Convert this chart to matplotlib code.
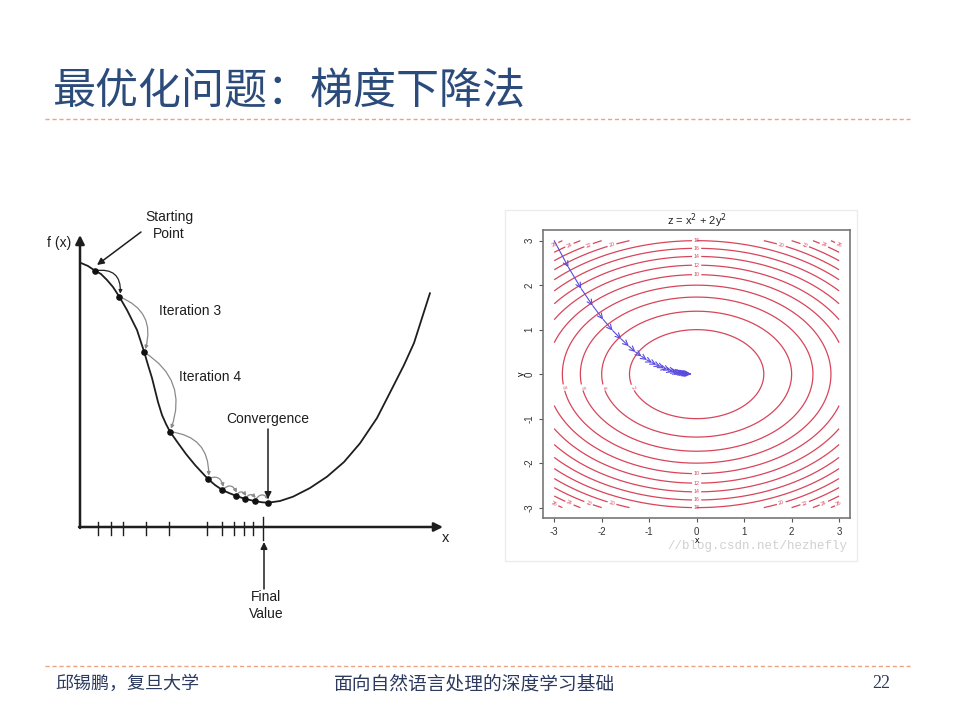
import numpy as np
import matplotlib
matplotlib.use("Agg")
from matplotlib import pyplot as plt
from matplotlib.patches import FancyArrowPatch, Rectangle

plt.rcParams['font.family'] = ['Liberation Sans', 'Noto Sans CJK SC', 'DejaVu Sans']
plt.rcParams['axes.unicode_minus'] = False

# slide text
title_text = "最优化问题：梯度下降法"
footer_left = "邱锡鹏，复旦大学"
footer_mid = "面向自然语言处理的深度学习基础"
footer_page = "22"

# left sketch: hand drawn f(x) curve (pixel coords of the slide)
curve_x = [81, 88, 95, 101, 107, 113, 119.3, 127, 137, 144.3, 148, 152, 155, 158, 162,
           166, 170, 178, 186, 195, 207.7, 215, 222.3, 229, 235.7, 245.3, 254.7, 262,
           268.3, 280, 293, 310, 327, 344, 360, 377, 393, 404, 414, 422, 430]
curve_y = [263, 266, 270.7, 274, 280, 287, 296.7, 310, 330, 352.3, 365, 378, 390, 402, 415,
           424, 431.7, 443, 454, 465, 478.7, 485, 490, 493, 495.7, 499, 501, 502.3,
           502.7, 501, 496.7, 488, 476.7, 462, 443.3, 418, 386.7, 365, 343, 318, 293]
dots_x = [95, 119.3, 144.3, 170, 207.7, 222.3, 235.7, 245.3, 254.7, 268.3]
dots_y = [270.7, 296.7, 352.3, 431.7, 478.7, 490, 495.7, 499, 501, 502.7]
tick_x = [98.3, 111, 122.7, 146, 169, 206.7, 222, 234, 243.7, 252.7]
final_x = 263.5

# right plot: z = x^2 + 2y^2 with the descent path
levels = [2, 4, 6, 8, 10, 12, 14, 16, 18, 20, 22, 24, 26]
path_x = [-3.0, -2.7, -2.43, -2.19, -1.97, -1.77, -1.59, -1.43, -1.29, -1.16, -1.05,
          -0.94, -0.85, -0.76, -0.69, -0.62, -0.56, -0.50, -0.45, -0.41, -0.37, -0.33,
          -0.30, -0.27, -0.24, -0.22, -0.19, -0.17, -0.16, -0.14, -0.13, -0.11]
path_y = [3.0, 2.4, 1.92, 1.54, 1.23, 0.98, 0.79, 0.63, 0.50, 0.40, 0.32,
          0.26, 0.21, 0.17, 0.13, 0.11, 0.08, 0.07, 0.05, 0.04, 0.035, 0.028,
          0.022, 0.018, 0.014, 0.011, 0.009, 0.007, 0.006, 0.005, 0.004, 0.003]

W, H = 956, 719
fig = plt.figure(figsize=(W / 100, H / 100), dpi=100)

# overlay axes in slide pixel coordinates
ax = fig.add_axes([0, 0, 1, 1])
ax.set_xlim(0, W)
ax.set_ylim(H, 0)
ax.axis('off')

cjk = ['Noto Sans CJK SC', 'DejaVu Sans']
ax.text(53, 92, title_text, fontsize=31, color='#2b4b7b', va='center', ha='left', family=cjk)
for yy in (119, 666):
    ax.plot([45, 910], [yy, yy], color='#eba381', lw=1.0, linestyle=(0, (3, 2)))
ax.text(55, 684, footer_left, fontsize=13, color='#2b3a5e', va='center', family=cjk)
ax.text(475, 684, footer_mid, fontsize=13.5, color='#2b3a5e', va='center', ha='center',
        family=cjk)
ax.text(890, 684, footer_page, fontsize=13, color='#2b3a5e', va='center', ha='right',
        family='Liberation Serif')

# left sketch
dark = '#1e1e1e'
ax.annotate('', xy=(80, 235), xytext=(80, 528),
            arrowprops=dict(arrowstyle='-|>', lw=1.8, color=dark, mutation_scale=13,
                            shrinkA=0, shrinkB=0))
ax.annotate('', xy=(443, 527), xytext=(79, 527),
            arrowprops=dict(arrowstyle='-|>', lw=1.8, color=dark, mutation_scale=13,
                            shrinkA=0, shrinkB=0))
ax.text(71, 243, "f (x)", fontsize=10, color=dark, va='center', ha='right')
ax.text(442, 538, "x", fontsize=10.5, color=dark, va='center')
for tx in tick_x:
    ax.plot([tx, tx], [521.5, 535], color=dark, lw=1.0)
ax.plot([final_x, final_x], [516.5, 540], color=dark, lw=1.0)

ax.plot(curve_x, curve_y, color=dark, lw=1.3, solid_capstyle='round')

rads = [-0.6, -0.45, -0.4, -0.45, -0.6, -0.7, -0.7, -0.7, -0.7]
for i in range(len(dots_x) - 1):
    col = '#222222' if i == 0 else '#8a8a8a'
    arc = FancyArrowPatch((dots_x[i], dots_y[i]), (dots_x[i + 1] + 1, dots_y[i + 1] - 3),
                          connectionstyle=f"arc3,rad={rads[i]}", arrowstyle='-|>',
                          mutation_scale=5, lw=0.9, color=col, shrinkA=0, shrinkB=0)
    ax.add_patch(arc)
ax.scatter(dots_x, dots_y, s=14, color='#111111', zorder=5)

ax.text(169, 217, "Starting", fontsize=10, color=dark, ha='center', va='center')
ax.text(169, 234, "Point", fontsize=10, color=dark, ha='center', va='center')
ax.annotate('', xy=(97, 265), xytext=(141, 232),
            arrowprops=dict(arrowstyle='-|>', lw=1.1, color=dark, mutation_scale=10,
                            shrinkA=0, shrinkB=0))
ax.text(159, 311, "Iteration 3", fontsize=10, color=dark, va='center')
ax.text(179, 377, "Iteration 4", fontsize=10, color=dark, va='center')
ax.text(226, 419, "Convergence", fontsize=10, color=dark, va='center')
ax.annotate('', xy=(268, 499), xytext=(268, 429),
            arrowprops=dict(arrowstyle='-|>', lw=1.1, color=dark, mutation_scale=10,
                            shrinkA=0, shrinkB=0))
ax.annotate('', xy=(264, 542), xytext=(264, 589),
            arrowprops=dict(arrowstyle='-|>', lw=1.1, color=dark, mutation_scale=10,
                            shrinkA=0, shrinkB=0))
ax.text(266, 597, "Final", fontsize=10, color=dark, ha='center', va='center')
ax.text(266, 614, "Value", fontsize=10, color=dark, ha='center', va='center')

# right panel frame (embedded picture)
ax.add_patch(Rectangle((505, 210), 352, 351, facecolor='white', edgecolor='#ececec', lw=1))
ax.text(847, 546, "//blog.csdn.net/hezhefly", fontsize=9, color='#d0d0d0', ha='right',
        va='center', family='Liberation Mono', zorder=10)

# contour plot
cax = fig.add_axes([543.3 / W, 1 - 518.3 / H, (850 - 543.3) / W, (518.3 - 230) / H])
cax.set_zorder(2)
cax.patch.set_alpha(0)
gx = np.linspace(-3, 3, 301)
gy = np.linspace(-3, 3, 301)
X, Y = np.meshgrid(gx, gy)
Z = X ** 2 + 2 * Y ** 2
cs = cax.contour(X, Y, Z, levels=levels, colors='#d8455a', linewidths=0.9)
manual = []
for lv in levels:
    if 10 <= lv <= 18:
        manual += [(0, np.sqrt(lv / 2)), (0, -np.sqrt(lv / 2))]
    elif lv >= 20:
        xx = np.sqrt(lv - 2 * 2.9 ** 2)
        manual += [(-xx, 2.9), (xx, 2.9), (-xx, -2.9), (xx, -2.9)]
    else:
        manual += [(-np.sqrt(lv - 0.2), -0.3)]
cax.clabel(cs, fmt='%d', fontsize=3.8, inline=True, inline_spacing=2, manual=manual)

for i in range(len(path_x) - 1):
    cax.annotate('', xy=(path_x[i + 1], path_y[i + 1]), xytext=(path_x[i], path_y[i]),
                 arrowprops=dict(arrowstyle='->', lw=0.8, color='#5a4ae0',
                                 mutation_scale=9, shrinkA=0, shrinkB=0))

cax.set_xlim(-3.23, 3.23)
cax.set_ylim(-3.24, 3.24)
cax.set_xticks([-3, -2, -1, 0, 1, 2, 3])
cax.set_yticks([-3, -2, -1, 0, 1, 2, 3])
cax.tick_params(labelsize=7, length=3, width=0.8, color='#555555', labelcolor='#333333')
for lab in cax.get_yticklabels():
    lab.set_rotation(90)
    lab.set_va('center')
for sp in cax.spines.values():
    sp.set_color('#777777')
    sp.set_linewidth(1.2)
cax.set_title("z = x$^2$ + 2y$^2$", fontsize=8, color='#222222', pad=3)
cax.set_xlabel("x", fontsize=6.5, labelpad=-1)
cax.set_ylabel("y", fontsize=6.5, labelpad=-1)

fig.savefig("out.png", dpi=100)
